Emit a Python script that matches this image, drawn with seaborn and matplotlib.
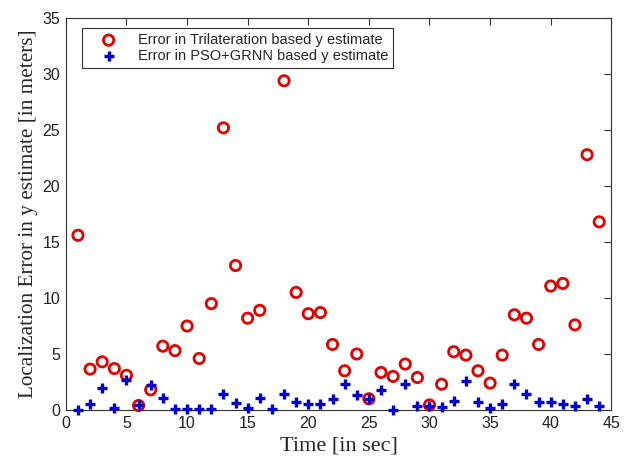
import numpy as np
import pandas as pd
import matplotlib
matplotlib.use("Agg")
import matplotlib.pyplot as plt
import seaborn as sns

# time steps (sec)
time_sec = list(range(1, 45))

# localization error in y estimate [m]
trilateration_err = [15.6, 3.65, 4.3, 3.7, 3.1, 0.4, 1.8, 5.7, 5.3, 7.5,
                     4.6, 9.5, 25.2, 12.9, 8.2, 8.9, np.nan, 29.4, 10.5, 8.6,
                     8.7, 5.85, 3.5, 5.0, 1.0, 3.35, 3.0, 4.1, 2.9, 0.45,
                     2.3, 5.2, 4.9, 3.5, 2.4, 4.9, 8.5, 8.2, 5.85, 11.07,
                     11.3, 7.6, 22.8, 16.8]
pso_grnn_err = [0.0, 0.55, 2.0, 0.15, 2.7, 0.45, 2.2, 1.1, 0.05, 0.1,
                0.1, 0.1, 1.4, 0.6, 0.2, 1.1, 0.05, 1.4, 0.75, 0.55,
                0.55, 1.0, 2.3, 1.3, 1.0, 1.8, 0.0, 2.3, 0.35, 0.4,
                0.25, 0.8, 2.6, 0.7, 0.15, 0.5, 2.3, 1.4, 0.7, 0.7,
                0.5, 0.4, 1.0, 0.4]

df = pd.DataFrame({"t": time_sec, "tri": trilateration_err, "pso": pso_grnn_err})

sns.set_style("white")
fig = plt.figure(figsize=(6.27, 4.63), dpi=100)
ax = fig.add_axes([0.105, 0.1145, 0.87, 0.8465])

sns.scatterplot(data=df, x="t", y="tri", ax=ax, marker="o", s=55,
                facecolors="none", edgecolor="#e00000", linewidth=2.0,
                clip_on=False, zorder=3,
                label="Error in Trilateration based y estimate")
sns.scatterplot(data=df, x="t", y="pso", ax=ax, marker="+", s=60,
                color="#0000d0", linewidth=2.4, clip_on=False, zorder=3,
                label="Error in PSO+GRNN based y estimate")

ax.set_xlim(0, 45)
ax.set_ylim(0, 35)
ax.set_xticks(range(0, 46, 5))
ax.set_yticks(range(0, 36, 5))
for lab in ax.get_xticklabels() + ax.get_yticklabels():
    lab.set_family(["Liberation Sans", "DejaVu Sans"])
    lab.set_fontsize(11.5)
    lab.set_color("#222222")
ax.tick_params(direction="in", length=5, width=0.8, top=True, right=True,
               colors="#333333", labelcolor="#222222", pad=4)
for sp in ax.spines.values():
    sp.set_color("#333333")
    sp.set_linewidth(0.8)

ax.set_xlabel("Time [in sec]", family=["Liberation Serif"], fontsize=16, labelpad=4)
ax.set_ylabel("Localization Error in y estimate [in meters]",
              family=["Liberation Serif"], fontsize=15.3, labelpad=3)

leg = ax.legend(loc="upper left", bbox_to_anchor=(0.029, 0.975),
                prop={"family": "Liberation Sans", "size": 10.5},
                frameon=True, fancybox=False, edgecolor="black",
                borderpad=0.35, handlelength=3.0, handletextpad=0.5,
                labelspacing=0.15, borderaxespad=0.0)
leg.get_frame().set_linewidth(0.8)

fig.savefig("out.png", dpi=100)
